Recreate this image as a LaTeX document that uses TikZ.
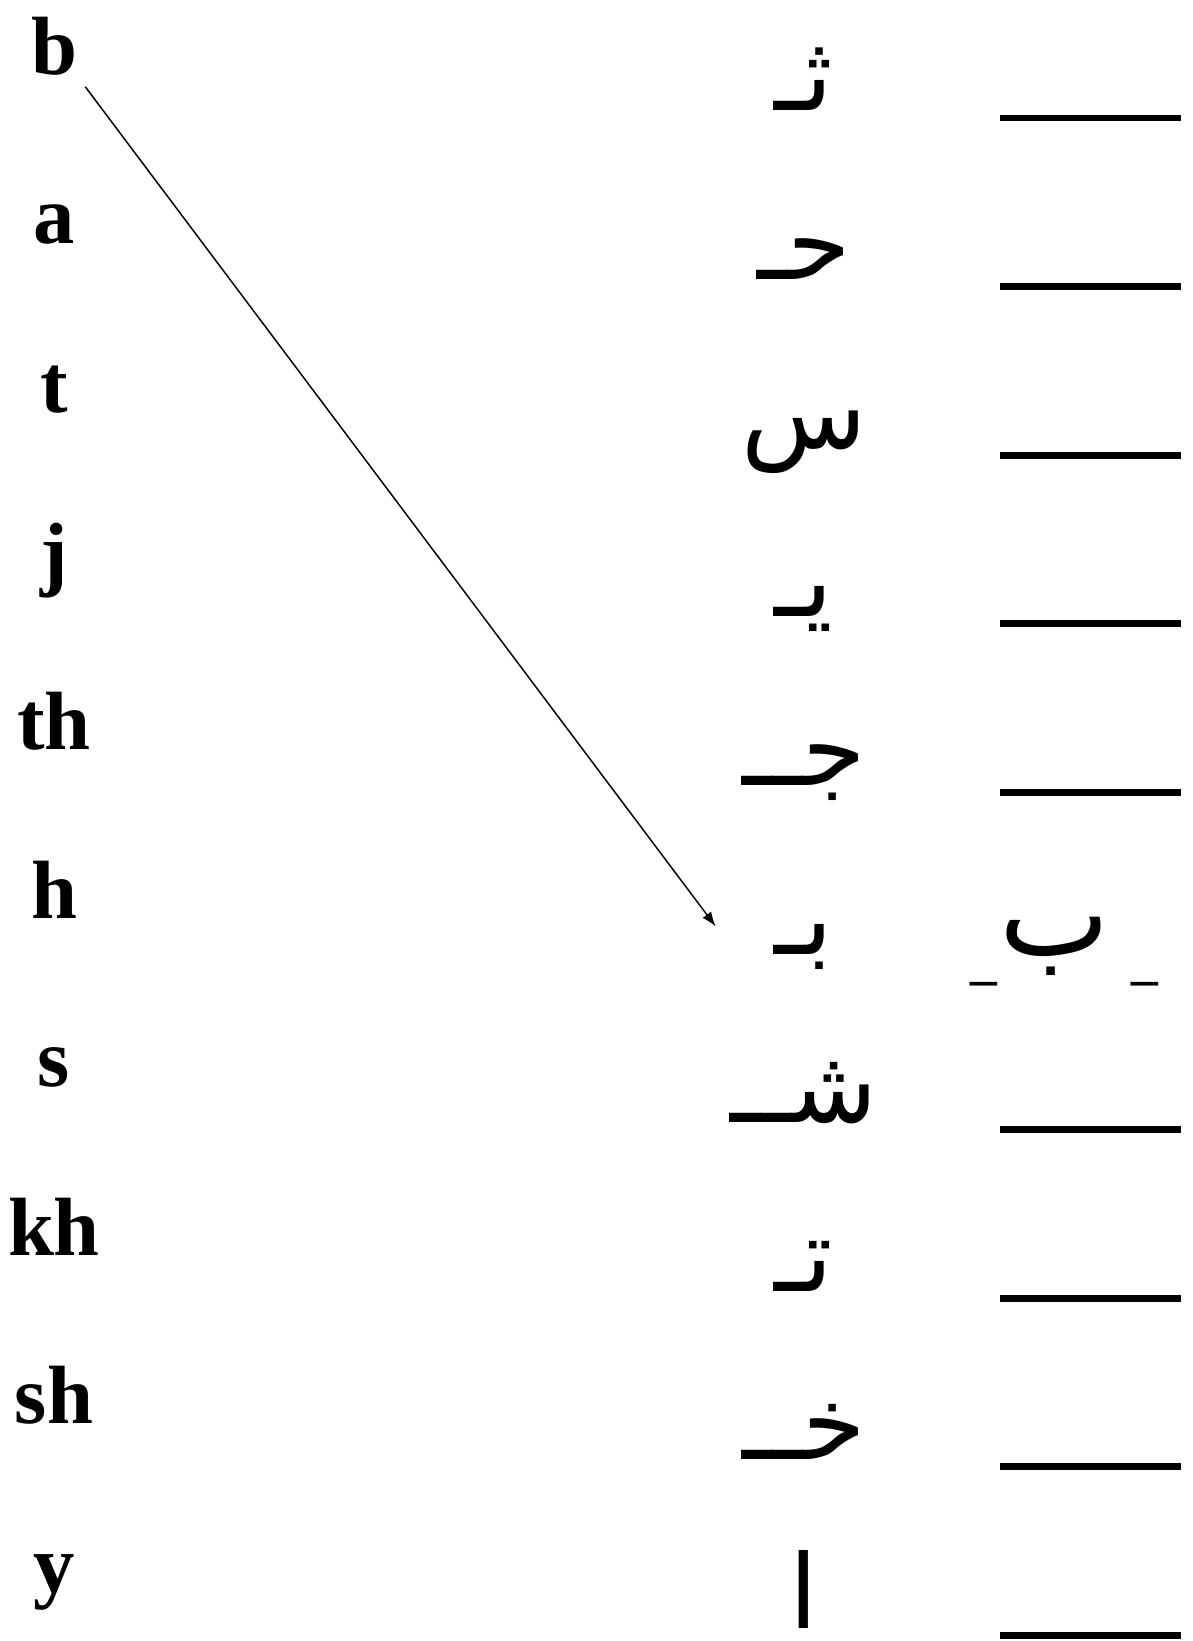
\documentclass[tikz,border=0pt]{standalone}
\usepackage{fontspec}
\setmainfont{Liberation Serif}
\newfontfamily\arabicfont[Script=Arabic]{DejaVu Sans}
\TeXXeTstate=1
\usetikzlibrary{arrows.meta}

\begin{document}
\begin{tikzpicture}
		[x=0.75pt,y=-0.75pt,
		latin/.style={font=\fontsize{62}{70}\selectfont\bfseries,inner sep=0pt,anchor=base},
		arabic/.style={font=\arabicfont\fontsize{77}{80}\selectfont,inner sep=0pt,anchor=base},
		blank/.style={draw,line width=5.2pt},
		match/.style={draw,line width=1.1pt,shorten <=10pt,-{Latex[length=11pt,width=8pt]}}]
		\useasboundingbox (0,0) rectangle (1192,1641);
		% letters, one row each
		\foreach \i/\lat/\ara in {1/b/ثـ,2/a/حـ,3/t/س,4/j/يـ,5/th/جــ,6/h/بـ,7/s/شــ,8/kh/تـ,9/sh/خــ,10/y/ا}{
			\node[latin] (lat\i) at (54,{75+168.6*(\i-1)}) {\lat};
			\node[arabic] (ara\i) at (804,{111+168.6*(\i-1)}) {\beginR\ara\endR};
		}
		% answer lines
		\foreach \i in {1,...,5,7,8,9,10}
			\draw[blank] (1000,{118+168.6*(\i-1)}) -- (1181,{118+168.6*(\i-1)});
		% the example answer
		\node[arabic,font=\arabicfont\fontsize{88}{90}\selectfont] (ans6) at (1064,955)
			{\beginR\raisebox{-14pt}{\fontsize{40}{40}\selectfont\_}\hspace{16pt}ب\hspace{2pt}\raisebox{-14pt}{\fontsize{40}{40}\selectfont\_}\endR};
		\coordinate (tip6) at ([xshift=-44pt,yshift=15pt]ara6.west);
		\draw[match] (lat1.south east) -- (tip6);
	\end{tikzpicture}
\end{document}
